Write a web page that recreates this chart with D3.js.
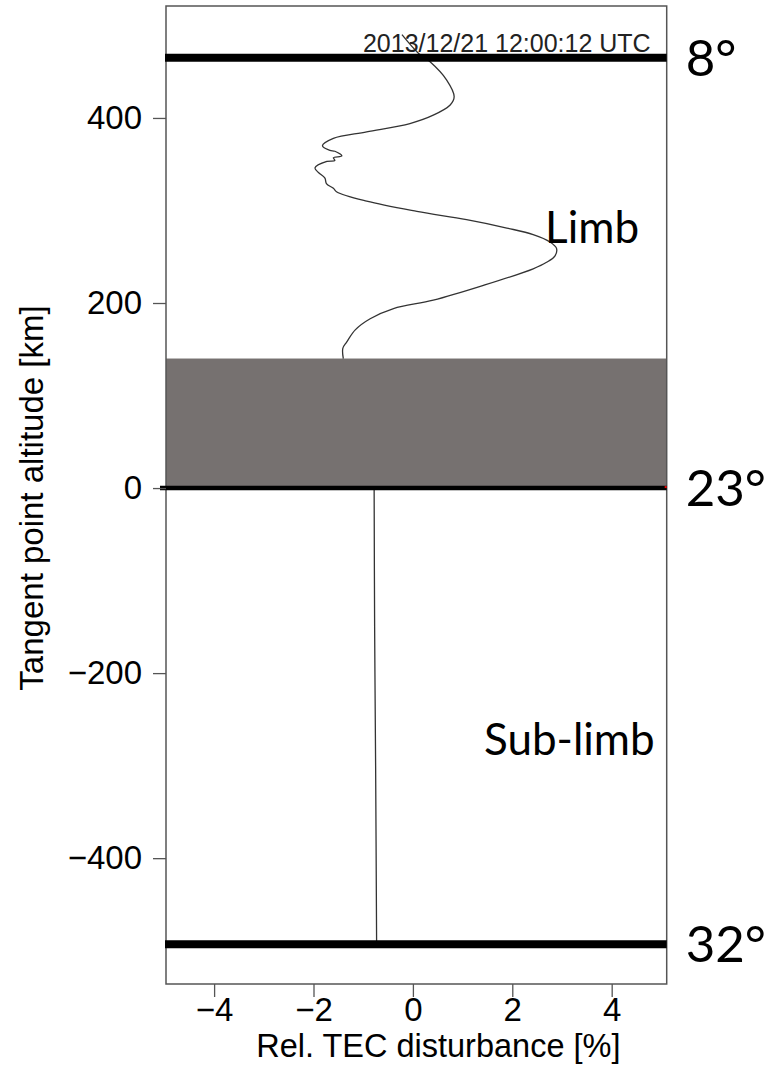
<!DOCTYPE html>
<html>
<head>
<meta charset="utf-8">
<script src="https://cdn.jsdelivr.net/npm/d3@7"></script>
<style>
  body { margin: 0; background: #fff; }
  svg { display: block; }
</style>
</head>
<body>
<div id="chart"></div>
<script>
// limb profile (above 140 km)
var limbAlt = [490, 470, 461, 441, 423, 414, 403, 394, 385, 378, 370, 365, 364, 359, 357, 354, 353, 346, 341, 335, 329, 324, 320, 310, 299, 290, 281, 274, 266, 259, 251, 244, 237, 219, 203, 194, 183, 171, 158, 151, 140];
var limbTec = [-0.22, 0.11, 0.34, 0.68, 0.83, 0.75, 0.41, -0.06, -0.93, -1.60, -1.82, -1.67, -1.57, -1.43, -1.60, -1.57, -1.73, -1.97, -1.90, -1.77, -1.74, -1.60, -1.53, -0.93, 0.08, 1.08, 1.89, 2.42, 2.76, 2.89, 2.86, 2.69, 2.42, 1.42, 0.41, -0.39, -0.86, -1.16, -1.33, -1.41, -1.40];

// sub-limb profile (below 0 km)
var subAlt = [0, -150, -300, -493];
var subTec = [-0.78, -0.77, -0.75, -0.73];

// elevation lines
var elevAlt = [465, 0, -493];
var elevLabels = ["8°", "23°", "32°"];

// shaded band
var bandAlt = [0, 140];

var xTicks = [-4, -2, 0, 2, 4];
var yTicks = [-400, -200, 0, 200, 400];

var W = 772, H = 1074;
var margin = {top: 6, right: 105.3, bottom: 90, left: 166};
var width = W - margin.left - margin.right,
    height = H - margin.top - margin.bottom;

var x = d3.scaleLinear().domain([-4.968, 5.107]).range([0, width]);
var y = d3.scaleLinear().domain([-536, 521]).range([height, 0]);

var svg = d3.select("#chart").append("svg")
    .attr("width", W)
    .attr("height", H)
  .append("g")
    .attr("transform", "translate(" + margin.left + "," + margin.top + ")");

var font = "'Liberation Sans', Arial, sans-serif";
var font2 = "Lato, 'Noto Sans', sans-serif";

// grey band
svg.append("rect")
    .attr("x", 0)
    .attr("width", width)
    .attr("y", y(bandAlt[1]))
    .attr("height", y(bandAlt[0]) - y(bandAlt[1]))
    .attr("fill", "#767170");

// profiles
var line = d3.line()
    .curve(d3.curveCatmullRom)
    .x(function(d) { return x(d[0]); })
    .y(function(d) { return y(d[1]); });

svg.append("path")
    .datum(d3.zip(limbTec, limbAlt))
    .attr("d", line)
    .attr("fill", "none")
    .attr("stroke", "#333")
    .attr("stroke-width", 1.3);

svg.append("path")
    .datum(d3.zip(subTec, subAlt))
    .attr("d", line)
    .attr("fill", "none")
    .attr("stroke", "#333")
    .attr("stroke-width", 1.3);

// box
svg.append("rect")
    .attr("width", width)
    .attr("height", height)
    .attr("fill", "none")
    .attr("stroke", "#555")
    .attr("stroke-width", 1.5);

// elevation lines
svg.selectAll(".elev")
    .data(elevAlt)
  .enter().append("line")
    .attr("class", "elev")
    .attr("x1", function(d) { return d === 0 ? -6 : -1; })
    .attr("x2", width)
    .attr("y1", function(d) { return y(d); })
    .attr("y2", function(d) { return y(d); })
    .attr("stroke", "#000")
    .attr("stroke-width", function(d) { return d === 0 ? 4.5 : 8; });

svg.append("rect")
    .attr("x", width - 2)
    .attr("y", y(0) - 2)
    .attr("width", 2)
    .attr("height", 2)
    .attr("fill", "#e00");

svg.selectAll(".elevLabel")
    .data(elevAlt)
  .enter().append("text")
    .attr("class", "elevLabel")
    .attr("x", width + 19)
    .attr("y", function(d) { return y(d) + 18; })
    .attr("font-family", font2)
    .attr("font-size", 51)
    .text(function(d, i) { return elevLabels[i]; });

// axes
var xAxis = svg.append("g")
    .attr("transform", "translate(0," + height + ")")
    .call(d3.axisBottom(x).tickValues(xTicks).tickSize(13).tickPadding(1));
var yAxis = svg.append("g")
    .call(d3.axisLeft(y).tickValues(yTicks).tickSize(13).tickPadding(11));

[xAxis, yAxis].forEach(function(g) {
  g.select(".domain").remove();
  g.selectAll(".tick line").attr("stroke", "#555").attr("stroke-width", 1.3);
  g.selectAll(".tick text")
    .attr("font-family", font)
    .attr("font-size", 33)
    .attr("fill", "#000");
});

// axis titles
svg.append("text")
    .attr("x", width / 2 + 22)
    .attr("y", height + 73)
    .attr("text-anchor", "middle")
    .attr("font-family", font)
    .attr("font-size", 32.5)
    .text("Rel. TEC disturbance [%]");

svg.append("text")
    .attr("transform", "translate(-123," + (height / 2 + 3) + ") rotate(-90)")
    .attr("text-anchor", "middle")
    .attr("font-family", font)
    .attr("font-size", 33)
    .text("Tangent point altitude [km]");

// timestamp
svg.append("text")
    .attr("x", width - 16)
    .attr("y", 46)
    .attr("text-anchor", "end")
    .attr("font-family", font)
    .attr("font-size", 25)
    .attr("fill", "#222")
    .text("2013/12/21 12:00:12 UTC");

// region labels
svg.append("text")
    .attr("x", x(2.66))
    .attr("y", y(265))
    .attr("font-family", font2)
    .attr("font-size", 44)
    .text("Limb");

svg.append("text")
    .attr("x", x(1.43))
    .attr("y", y(-289))
    .attr("font-family", font2)
    .attr("font-size", 44)
    .text("Sub-limb");
</script>
</body>
</html>
